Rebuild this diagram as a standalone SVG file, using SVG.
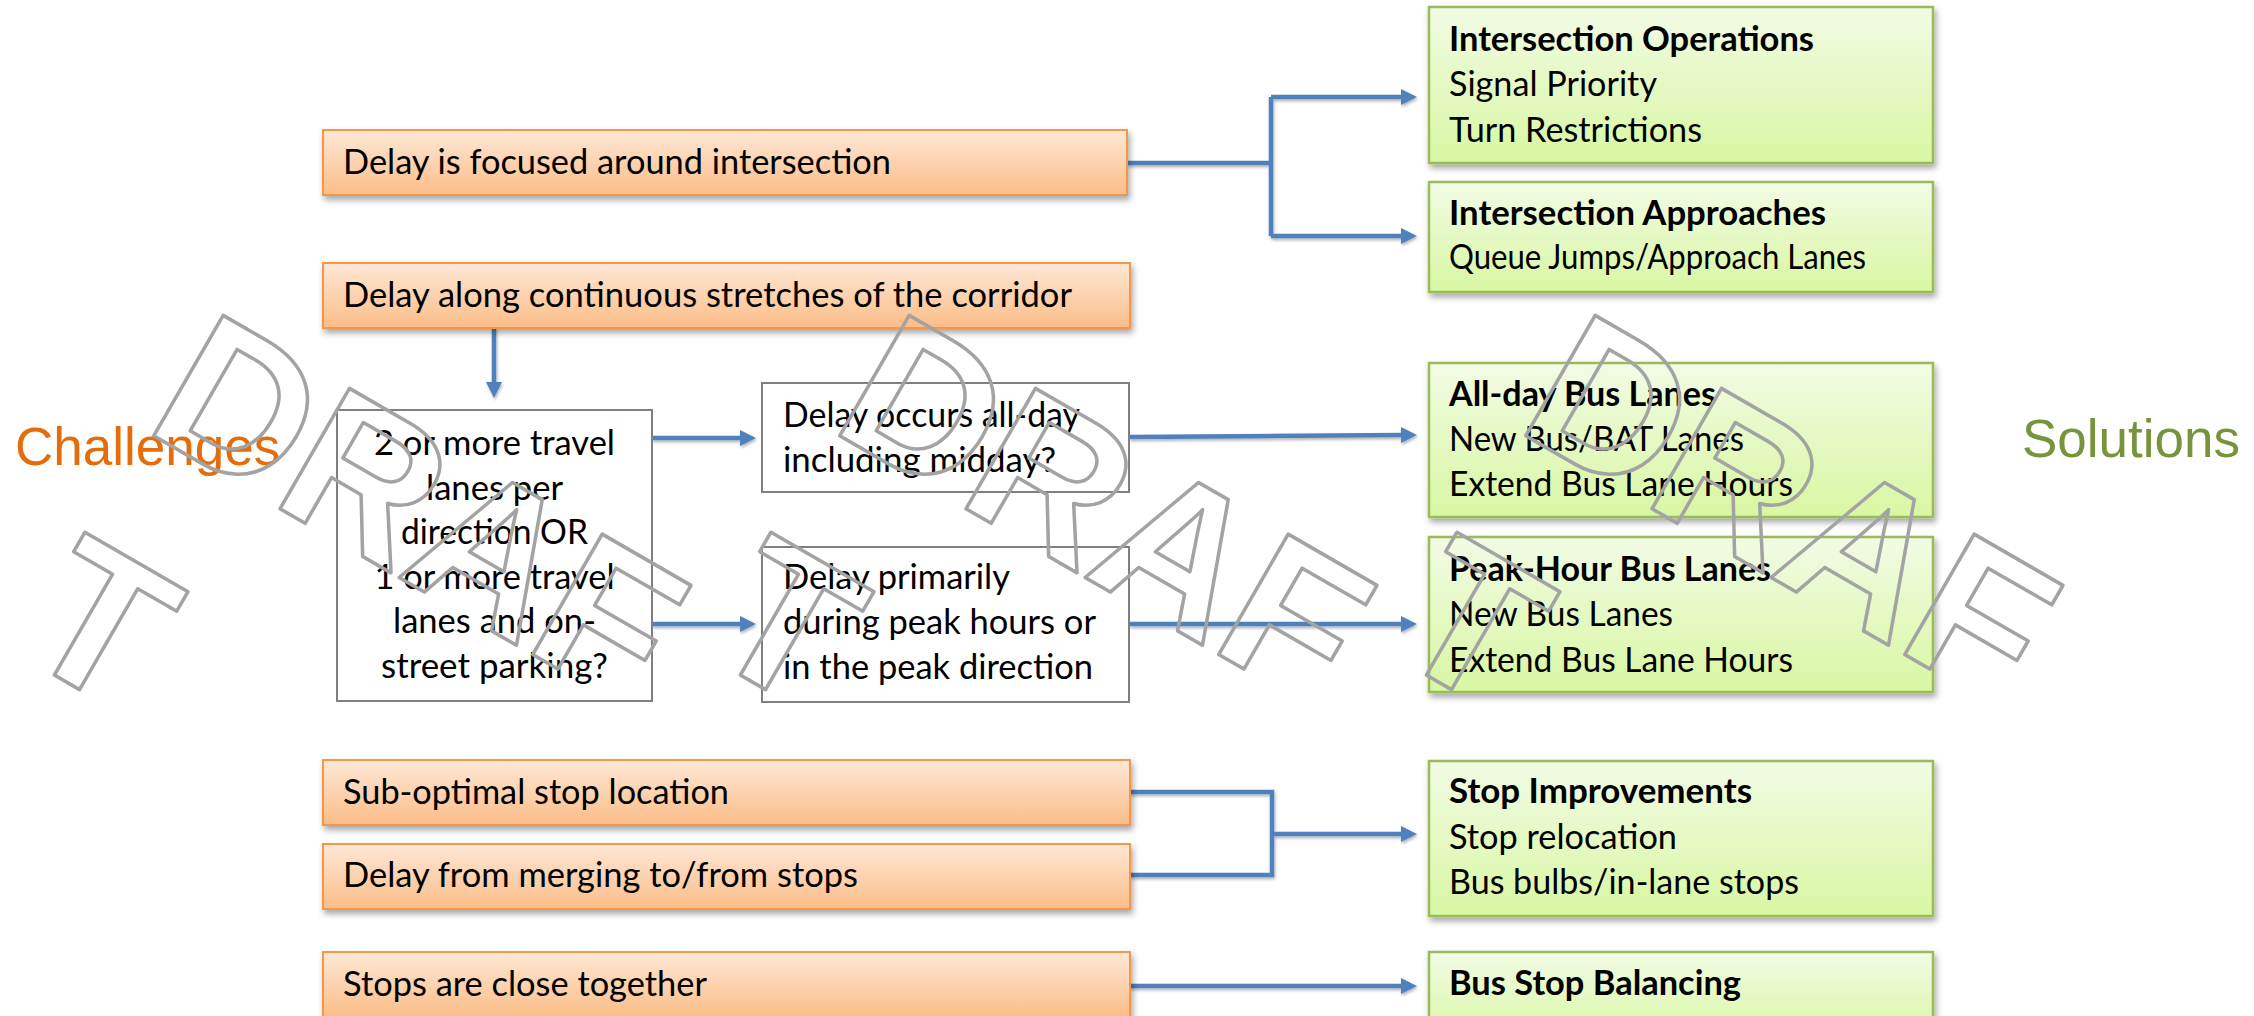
<svg xmlns="http://www.w3.org/2000/svg" width="2254" height="1016" viewBox="0 0 2254 1016">
  <defs>
    <linearGradient id="gOrange" x1="0" y1="0" x2="0" y2="1">
      <stop offset="0" stop-color="#fee8d6"/>
      <stop offset="1" stop-color="#fbbd88"/>
    </linearGradient>
    <linearGradient id="gGreen" x1="0" y1="0" x2="0" y2="1">
      <stop offset="0" stop-color="#f2fbe5"/>
      <stop offset="1" stop-color="#d8f7a2"/>
    </linearGradient>
    <filter id="boxShadow" x="-5%" y="-20%" width="110%" height="150%">
      <feDropShadow dx="2" dy="4" stdDeviation="3" flood-color="#000" flood-opacity="0.35"/>
    </filter>
    <filter id="lineShadow" x="-5%" y="-20%" width="110%" height="150%">
      <feDropShadow dx="1" dy="2" stdDeviation="1.5" flood-color="#000" flood-opacity="0.3"/>
    </filter>
    <marker id="arrow" viewBox="0 0 16 16" markerUnits="userSpaceOnUse" markerWidth="16" markerHeight="16" refX="2" refY="8" orient="auto">
      <path d="M0,0 L16,8 L0,16 z" fill="#4f81bd"/>
    </marker>
    <style>
      .challenge rect { fill: url(#gOrange); stroke: #f79646; stroke-width: 2; filter: url(#boxShadow); }
      .solution rect { fill: url(#gGreen); stroke: #9bbb59; stroke-width: 2.5; filter: url(#boxShadow); }
      .question rect { fill: #ffffff; stroke: #7f7f7f; stroke-width: 2; }
      text { font-family: Lato, "Liberation Sans", sans-serif; font-size: 34px; fill: #000; }
      .head { font-weight: bold; }
      .mid { text-anchor: middle; }
      .conn { fill: none; stroke: #4f81bd; stroke-width: 4.5; }
      .side { font-family: "Liberation Sans", Arial, sans-serif; font-size: 53px; }
      .wm text { font-family: "Liberation Sans", Arial, sans-serif; font-size: 202px; font-weight: bold; fill: none; stroke: #a3a3a3; stroke-width: 3.5; stroke-linejoin: round; }
    </style>
  </defs>

  <rect width="2254" height="1016" fill="#ffffff"/>

  <!-- side labels -->
  <text id="lblChallenges" class="side" x="15" y="465" style="fill:#e46c0a">Challenges</text>
  <text id="lblSolutions" class="side" x="2022" y="457" style="fill:#77933c">Solutions</text>

  <!-- connectors -->
  <g id="connectors" filter="url(#lineShadow)">
    <path class="conn" d="M1127,163 H1271"/>
    <path class="conn" d="M1271,97 V236"/>
    <path class="conn" d="M1271,97 H1403" marker-end="url(#arrow)"/>
    <path class="conn" d="M1271,236 H1403" marker-end="url(#arrow)"/>
    <path class="conn" d="M494,328 V384" marker-end="url(#arrow)"/>
    <path class="conn" d="M652,438 H742" marker-end="url(#arrow)"/>
    <path class="conn" d="M652,624 H742" marker-end="url(#arrow)"/>
    <path class="conn" d="M1129,437 L1403,435" marker-end="url(#arrow)"/>
    <path class="conn" d="M1129,624 H1403" marker-end="url(#arrow)"/>
    <path class="conn" d="M1130,792 H1272 V875 H1130"/>
    <path class="conn" d="M1272,834 H1403" marker-end="url(#arrow)"/>
    <path class="conn" d="M1130,986 H1403" marker-end="url(#arrow)"/>
  </g>

  <!-- challenges -->
  <g id="chIntersection" class="challenge">
    <rect x="323" y="130" width="804" height="65"/>
    <text x="343" y="174" textLength="548" lengthAdjust="spacingAndGlyphs">Delay is focused around intersection</text>
  </g>
  <g id="chCorridor" class="challenge">
    <rect x="323" y="263" width="807" height="65"/>
    <text x="343" y="307" textLength="729" lengthAdjust="spacingAndGlyphs">Delay along continuous stretches of the corridor</text>
  </g>
  <g id="chStopLocation" class="challenge">
    <rect x="323" y="760" width="807" height="65"/>
    <text x="343" y="804" textLength="386" lengthAdjust="spacingAndGlyphs">Sub-optimal stop location</text>
  </g>
  <g id="chMerging" class="challenge">
    <rect x="323" y="844" width="807" height="65"/>
    <text x="343" y="887" textLength="515" lengthAdjust="spacingAndGlyphs">Delay from merging to/from stops</text>
  </g>
  <g id="chStopSpacing" class="challenge">
    <rect x="323" y="952" width="807" height="65"/>
    <text x="343" y="996" textLength="364" lengthAdjust="spacingAndGlyphs">Stops are close together</text>
  </g>

  <!-- questions -->
  <g id="qLanes" class="question">
    <rect x="337" y="410" width="315" height="291"/>
    <text class="mid" x="494.5" y="455" textLength="241" lengthAdjust="spacingAndGlyphs">2 or more travel</text>
    <text class="mid" x="494.5" y="499.6" textLength="137" lengthAdjust="spacingAndGlyphs">lanes per</text>
    <text class="mid" x="494.5" y="544.2" textLength="187" lengthAdjust="spacingAndGlyphs">direction OR</text>
    <text class="mid" x="494.5" y="588.8" textLength="240" lengthAdjust="spacingAndGlyphs">1 or more travel</text>
    <text class="mid" x="494.5" y="633.4" textLength="203" lengthAdjust="spacingAndGlyphs">lanes and on-</text>
    <text class="mid" x="494.5" y="678" textLength="227" lengthAdjust="spacingAndGlyphs">street parking?</text>
  </g>
  <g id="qAllDay" class="question">
    <rect x="762" y="383" width="367" height="109"/>
    <text x="783" y="427" textLength="297" lengthAdjust="spacingAndGlyphs">Delay occurs all-day</text>
    <text x="783" y="472" textLength="273" lengthAdjust="spacingAndGlyphs">including midday?</text>
  </g>
  <g id="qPeak" class="question">
    <rect x="762" y="547" width="367" height="155"/>
    <text x="783" y="589" textLength="227" lengthAdjust="spacingAndGlyphs">Delay primarily</text>
    <text x="783" y="634" textLength="313" lengthAdjust="spacingAndGlyphs">during peak hours or</text>
    <text x="783" y="679" textLength="310" lengthAdjust="spacingAndGlyphs">in the peak direction</text>
  </g>

  <!-- solutions -->
  <g id="soIntersectionOps" class="solution">
    <rect x="1429" y="7" width="504" height="156"/>
    <text class="head" x="1449" y="51" textLength="365" lengthAdjust="spacingAndGlyphs">Intersection Operations</text>
    <text x="1449" y="96" textLength="208" lengthAdjust="spacingAndGlyphs">Signal Priority</text>
    <text x="1449" y="142" textLength="253" lengthAdjust="spacingAndGlyphs">Turn Restrictions</text>
  </g>
  <g id="soIntersectionApproach" class="solution">
    <rect x="1429" y="182" width="504" height="110"/>
    <text class="head" x="1449" y="225" textLength="377" lengthAdjust="spacingAndGlyphs">Intersection Approaches</text>
    <text x="1449" y="269" textLength="417" lengthAdjust="spacingAndGlyphs">Queue Jumps/Approach Lanes</text>
  </g>
  <g id="soAllDayLanes" class="solution">
    <rect x="1429" y="363" width="504" height="154"/>
    <text class="head" x="1449" y="406" textLength="267" lengthAdjust="spacingAndGlyphs">All-day Bus Lanes</text>
    <text x="1449" y="451" textLength="295" lengthAdjust="spacingAndGlyphs">New Bus/BAT Lanes</text>
    <text x="1449" y="496" textLength="344" lengthAdjust="spacingAndGlyphs">Extend Bus Lane Hours</text>
  </g>
  <g id="soPeakLanes" class="solution">
    <rect x="1429" y="537" width="504" height="155"/>
    <text class="head" x="1449" y="581" textLength="322" lengthAdjust="spacingAndGlyphs">Peak-Hour Bus Lanes</text>
    <text x="1449" y="626" textLength="224" lengthAdjust="spacingAndGlyphs">New Bus Lanes</text>
    <text x="1449" y="672" textLength="344" lengthAdjust="spacingAndGlyphs">Extend Bus Lane Hours</text>
  </g>
  <g id="soStopImprovements" class="solution">
    <rect x="1429" y="761" width="504" height="155"/>
    <text class="head" x="1449" y="803" textLength="303" lengthAdjust="spacingAndGlyphs">Stop Improvements</text>
    <text x="1449" y="849" textLength="228" lengthAdjust="spacingAndGlyphs">Stop relocation</text>
    <text x="1449" y="894" textLength="350" lengthAdjust="spacingAndGlyphs">Bus bulbs/in-lane stops</text>
  </g>
  <g id="soStopBalancing" class="solution">
    <rect x="1429" y="952" width="504" height="90"/>
    <text class="head" x="1449" y="995" textLength="292" lengthAdjust="spacingAndGlyphs">Bus Stop Balancing</text>
  </g>

  <!-- outlined DRAFT watermark, repeated across the sheet -->
  <g class="wm">
    <g transform="translate(142,429) rotate(30)">
      <text x="0" y="0">DRAF</text>
      <text x="0" y="257">T</text>
    </g>
    <g transform="translate(828,429) rotate(30)">
      <text x="0" y="0">DRAF</text>
      <text x="0" y="257">T</text>
    </g>
    <g transform="translate(1514,429) rotate(30)">
      <text x="0" y="0">DRAF</text>
      <text x="0" y="257">T</text>
    </g>
  </g>
</svg>
